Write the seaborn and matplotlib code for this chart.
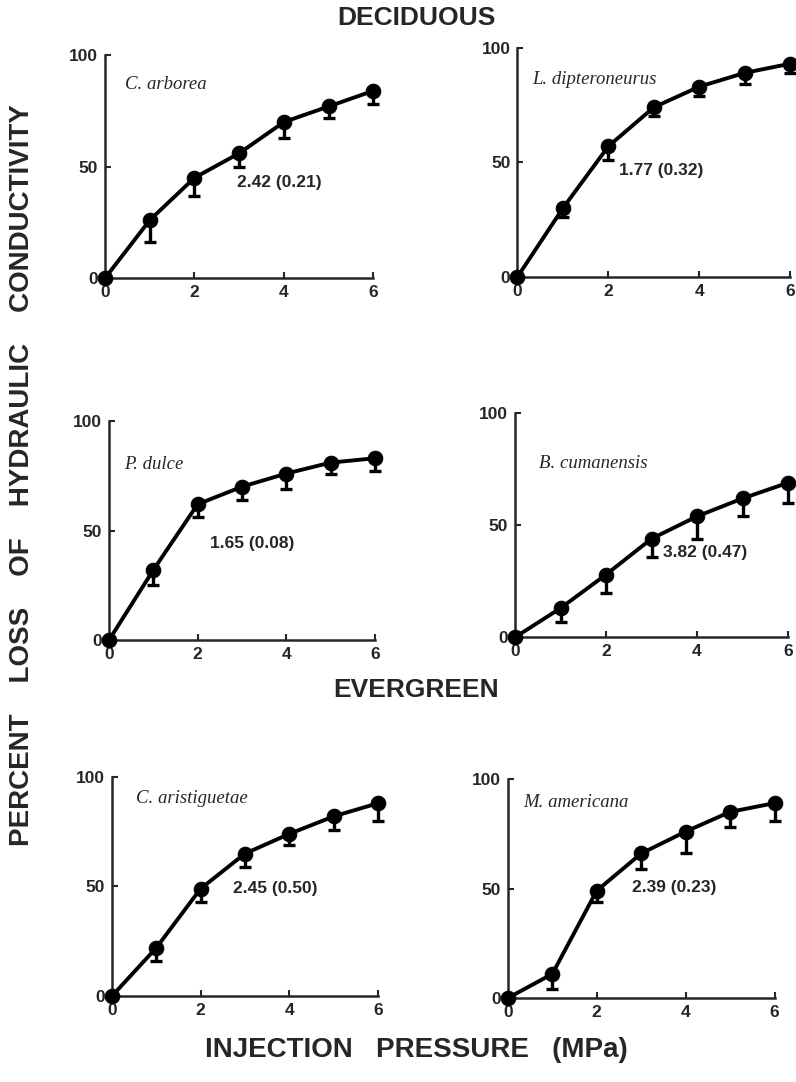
import numpy as np
import pandas as pd
import matplotlib
matplotlib.use("Agg")
import matplotlib.pyplot as plt
import seaborn as sns

# injection pressure (MPa)
pressure = [0, 1, 2, 3, 4, 5, 6]

# percent loss of hydraulic conductivity (mean) and lower error (SE)
arborea = [0, 26, 45, 56, 70, 77, 84]
arborea_err = [0, 10, 8, 6, 7, 5, 6]
dipteroneurus = [0, 30, 57, 74, 83, 89, 93]
dipteroneurus_err = [0, 4, 6, 4, 4, 5, 4]
dulce = [0, 32, 62, 70, 76, 81, 83]
dulce_err = [0, 7, 6, 6, 7, 5, 6]
cumanensis = [0, 13, 28, 44, 54, 62, 69]
cumanensis_err = [0, 6, 8, 8, 10, 8, 9]
aristiguetae = [0, 22, 49, 65, 74, 82, 88]
aristiguetae_err = [0, 6, 6, 6, 5, 6, 8]
americana = [0, 11, 49, 66, 76, 85, 89]
americana_err = [0, 7, 5, 7, 10, 7, 8]

species = ["C. arborea", "L. dipteroneurus", "P. dulce",
           "B. cumanensis", "C. aristiguetae", "M. americana"]
p50_labels = ["2.42 (0.21)", "1.77 (0.32)", "1.65 (0.08)",
              "3.82 (0.47)", "2.45 (0.50)", "2.39 (0.23)"]

sns.set_style("ticks")
plt.rcParams['font.family'] = ['Liberation Sans', 'DejaVu Sans']

fig = plt.figure(figsize=(7.96, 10.82), dpi=100)

# axes rectangles (fig fraction)
boxes = [
    [0.132, 0.743, 0.337, 0.206],
    [0.650, 0.744, 0.343, 0.212],
    [0.137, 0.4085, 0.334, 0.2024],
    [0.647, 0.411, 0.343, 0.207],
    [0.1407, 0.0795, 0.334, 0.2024],
    [0.638, 0.0776, 0.335, 0.2024],
]
means = [arborea, dipteroneurus, dulce, cumanensis, aristiguetae, americana]
errs = [arborea_err, dipteroneurus_err, dulce_err, cumanensis_err,
        aristiguetae_err, americana_err]
# label positions in data coords
sp_pos = [(0.45, 87), (0.33, 86), (0.34, 80), (0.53, 77.5), (0.54, 90), (0.34, 89.5)]
p50_pos = [(2.95, 43), (2.24, 46.5), (2.28, 44), (3.25, 38), (2.73, 49), (2.79, 50.5)]

for i in range(6):
    ax = fig.add_axes(boxes[i])
    df = pd.DataFrame({"pressure": pressure, "loss": means[i]})
    ax.errorbar(pressure, means[i], yerr=[errs[i], np.zeros(7)], fmt="none",
                ecolor="black", elinewidth=2.4, capsize=4, capthick=2.4,
                clip_on=False, zorder=3)
    sns.lineplot(data=df, x="pressure", y="loss", ax=ax, color="black",
                 linewidth=2.8, marker="o", markersize=10.5,
                 markeredgecolor="black", clip_on=False, zorder=4)
    ax.set_xlim(0, 6)
    ax.set_ylim(0, 100)
    ax.set_xticks([0, 2, 4, 6])
    ax.set_yticks([0, 50, 100])
    ax.set_xlabel("")
    ax.set_ylabel("")
    sns.despine(ax=ax)
    for s in ["left", "bottom"]:
        ax.spines[s].set_linewidth(1.8)
    ax.tick_params(direction="in", length=4, width=1.5, labelsize=12.5, pad=5)
    for lab in ax.get_xticklabels() + ax.get_yticklabels():
        lab.set_fontweight("bold")
    ax.text(sp_pos[i][0], sp_pos[i][1], species[i], family="Liberation Serif",
            style="italic", fontsize=13.5, va="center", ha="left")
    ax.text(p50_pos[i][0], p50_pos[i][1], p50_labels[i], fontsize=12.5,
            fontweight="bold", va="center", ha="left")

fig.text(0.523, 0.983, "DECIDUOUS", ha="center", va="center",
         fontsize=19, fontweight="bold")
fig.text(0.523, 0.362, "EVERGREEN", ha="center", va="center",
         fontsize=19, fontweight="bold")
fig.text(0.523, 0.0296, "INJECTION   PRESSURE   (MPa)", ha="center",
         va="center", fontsize=20, fontweight="bold")
fig.text(0.028, 0.561, "PERCENT    LOSS    OF    HYDRAULIC    CONDUCTIVITY",
         ha="center", va="center", rotation=90, fontsize=20, fontweight="bold")

fig.savefig("out.png", dpi=100)
plt.close(fig)
